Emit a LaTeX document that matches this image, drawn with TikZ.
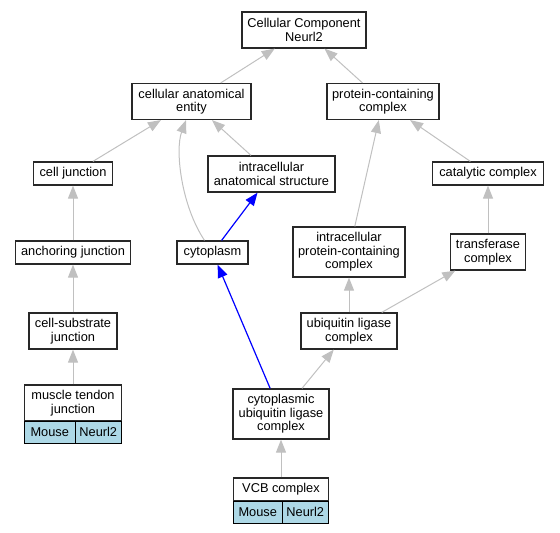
\documentclass[tikz,border=0pt]{standalone}
\usepackage{fontspec}
\setmainfont{Liberation Sans}
\usepackage{tikz}
\usetikzlibrary{arrows,arrows.meta}
\definecolor{kante}{RGB}{192,192,192}
\definecolor{blaupfad}{RGB}{0,0,255}
\definecolor{maus}{RGB}{173,216,230}
\definecolor{rahmen}{RGB}{40,40,40}

\begin{document}
\begin{tikzpicture}[x=1pt, y=-1pt,
    font=\fontsize{12.8}{13.5}\selectfont,
    term/.style={draw=rahmen, line width=1.2pt, inner sep=0pt, align=center, minimum height=36pt},
    zelle/.style={draw=black, line width=1pt, fill=maus, inner sep=0pt, minimum height=22pt},
    isa/.style={kante, line width=1pt, -{Triangle[length=13pt, width=10pt]}},
    blaupfeil/.style={blaupfad, line width=1.2pt, -{Triangle[length=13pt, width=10pt]}}]

    \useasboundingbox (0,0) rectangle (560,533);

    % \draw[red] (0,0) rectangle (560,533);

    \node[term, minimum width=124pt] (cc) at (304,30) {Cellular Component\\Neurl2};

    \node[term, minimum width=119pt] (cae) at (191.5,101.5) {cellular anatomical\\entity};
    \node[term, minimum width=112pt] (pcc) at (383,101.5) {protein-containing\\complex};

    \node[term, minimum width=79pt, minimum height=23pt] (cj) at (73,173.5) {cell junction};
    \node[term, minimum width=127pt] (ias) at (271.5,174) {intracellular\\anatomical structure};
    \node[term, minimum width=111pt, minimum height=23pt] (cat) at (488,173.5) {catalytic complex};

    \node[term, minimum width=115pt, minimum height=23pt] (anch) at (73,252.5) {anchoring junction};
    \node[term, minimum width=71pt, minimum height=23pt] (cyto) at (212.5,252.5) {cytoplasm};
    \node[term, minimum width=112pt, minimum height=50pt] (ipc) at (349,252) {intracellular\\protein-containing\\complex};
    \node[term, minimum width=75pt] (trans) at (488,252) {transferase\\complex};

    \node[term, minimum width=88pt] (csj) at (73,331) {cell-substrate\\junction};
    \node[term, minimum width=96pt] (ubl) at (349,331) {ubiquitin ligase\\complex};

    \node[term, minimum width=97pt] (mtj) at (73,403) {muscle tendon\\junction};
    \node[zelle, minimum width=50.5pt] (mtjmaus) at (49.75,432) {Mouse};
    \node[zelle, minimum width=46.5pt] (mtjgen) at (98.25,432) {Neurl2};
    \node[term, minimum width=96pt, minimum height=50pt] (cul) at (281,414) {cytoplasmic\\ubiquitin ligase\\complex};

    \node[term, minimum width=95pt, minimum height=23pt] (vcb) at (281,489.5) {VCB complex};
    \node[zelle, minimum width=48.5pt] (vcbmaus) at (257.75,512) {Mouse};
    \node[zelle, minimum width=46.5pt] (vcbgen) at (305.25,512) {Neurl2};

    \draw[isa] (cae) -- (cc);
    \draw[isa] (pcc) -- (cc);
    \draw[isa] (cj) -- (cae);
    \draw[isa] (ias) -- (cae);
    \draw[isa] ([xshift=-8pt]cyto.north) .. controls (181,205) and (175,150) .. ([xshift=-5.5pt]cae.south);
    \draw[isa] (ipc) -- (pcc);
    \draw[isa] (cat) -- (pcc);
    \draw[isa] (anch) -- (cj);
    \draw[isa] (trans) -- (cat);
    \draw[isa] (csj) -- (anch);
    \draw[isa] (ubl) -- (ipc);
    \draw[isa] (ubl) -- (trans);
    \draw[isa] (mtj) -- (csj);
    \draw[isa] (cul) -- (ubl);
    \draw[isa] (vcb) -- (cul);

    \draw[blaupfeil] (cyto) -- (ias);
    \draw[blaupfeil] (cul) -- (cyto);

\end{tikzpicture}
\end{document}
